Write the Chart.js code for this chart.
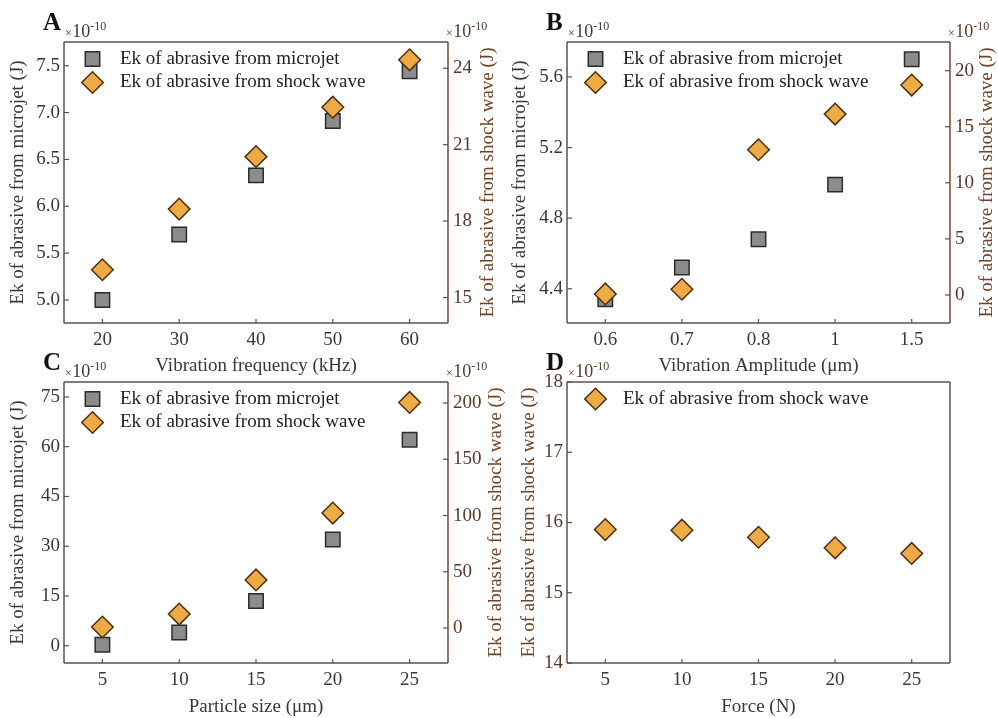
<!DOCTYPE html>
<html><head><meta charset="utf-8">
<script src="https://cdn.jsdelivr.net/npm/chart.js@4.4.1/dist/chart.umd.min.js"></script>
<style>
html,body{margin:0;padding:0;background:#fff;}
#wrap{position:relative;width:998px;height:718px;overflow:hidden;background:#fff;}
canvas{position:absolute;left:0;top:0;}
</style></head><body><div id="wrap">
<canvas id="cA" width="998" height="718"></canvas>
<canvas id="cB" width="998" height="718"></canvas>
<canvas id="cC" width="998" height="718"></canvas>
<canvas id="cD" width="998" height="718"></canvas>
</div>
<script>
// ---------------- data (values in units of 1e-10 J) ----------------
const freqLabels = ['20', '30', '40', '50', '60'];
const freqMicrojet = [5.00, 5.70, 6.33, 6.91, 7.44];
const freqShock = [16.09, 18.47, 20.53, 22.47, 24.33];

const ampLabels = ['0.6', '0.7', '0.8', '1', '1.5'];
const ampMicrojet = [4.34, 4.52, 4.68, 4.99, 5.70];
const ampShock = [0.09, 0.51, 12.95, 16.13, 18.72];

const sizeLabels = ['5', '10', '15', '20', '25'];
const sizeMicrojet = [0.3, 4.0, 13.5, 32.0, 62.1];
const sizeShock = [0.9, 12.4, 42.7, 102.2, 200.5];

const forceLabels = ['5', '10', '15', '20', '25'];
const forceShock = [15.90, 15.89, 15.79, 15.64, 15.56];

const ticksALeft = [5.0, 5.5, 6.0, 6.5, 7.0, 7.5];
const ticksARight = [15, 18, 21, 24];
const ticksBLeft = [4.4, 4.8, 5.2, 5.6];
const ticksBRight = [0, 5, 10, 15, 20];
const ticksCLeft = [0, 15, 30, 45, 60, 75];
const ticksCRight = [0, 50, 100, 150, 200];
const ticksDLeft = [14, 15, 16, 17, 18];

const microName = 'Ek of abrasive from microjet';
const shockName = 'Ek of abrasive from shock wave';
const microAxisTitle = 'Ek of abrasive from microjet (J)';
const shockAxisTitle = 'Ek of abrasive from shock wave (J)';

// ---------------- styles ----------------
const FAM = '"Liberation Serif", "Times New Roman", serif';
const FS = 19, LH = 1.2, HALF = FS * LH / 2;
const TFS = 19;
const GRAY_TXT = '#383838';
const BROWN_TXT = '#553a28';
const BROWN_TITLE = '#6e4326';
const BROWN_AXIS = '#6e4a36';
const FRAME = '#555555';
const SQ_FILL = '#8c8c8c', SQ_EDGE = '#2b2b2b';
const DI_FILL = '#eeaa44', DI_EDGE = '#4a3010';

const panels = [
  { id: 'cA', letter: 'A', L: 64, R: 448, T: 42, B: 323, labels: freqLabels, xTitle: 'Vibration frequency (kHz)',
    micro: freqMicrojet, shock: freqShock,
    left: { min: 4.755, max: 7.753, ticks: ticksALeft, dec: 1 },
    right: { min: 14.0, max: 25.03, ticks: ticksARight, dec: 0 },
    leftTitleX: 18, rightEdge: 499, xTitleY: 366 },
  { id: 'cB', letter: 'B', L: 567, R: 950, T: 42, B: 323, labels: ampLabels, xTitle: 'Vibration Amplitude (\u03bcm)',
    micro: ampMicrojet, shock: ampShock,
    left: { min: 4.206, max: 5.798, ticks: ticksBLeft, dec: 1 },
    right: { min: -2.5, max: 22.56, ticks: ticksBRight, dec: 0 },
    leftTitleX: 520, rightEdge: 998, xTitleY: 366 },
  { id: 'cC', letter: 'C', L: 64, R: 448, T: 382, B: 663, labels: sizeLabels, xTitle: 'Particle size (\u03bcm)',
    micro: sizeMicrojet, shock: sizeShock,
    left: { min: -5.2, max: 79.5, ticks: ticksCLeft, dec: 0 },
    right: { min: -31.1, max: 218.7, ticks: ticksCRight, dec: 0 },
    leftTitleX: 18, rightEdge: 507, xTitleY: 707 },
  { id: 'cD', letter: 'D', L: 567, R: 950, T: 382, B: 663, labels: forceLabels, xTitle: 'Force (N)',
    micro: null, shock: forceShock,
    left: { min: 14, max: 18, ticks: ticksDLeft, dec: 0 },
    right: null,
    leftTitleX: 529, rightEdge: 998, xTitleY: 707 }
];

const W = 998, H = 718;

function drawExp(ctx, x, T, color) {
  ctx.save();
  ctx.fillStyle = color;
  ctx.textBaseline = 'middle';
  ctx.textAlign = 'left';
  ctx.font = '12px ' + FAM;
  ctx.fillText('\u00d7', x, T - 8);
  const w1 = ctx.measureText('\u00d7').width;
  ctx.font = '18px ' + FAM;
  ctx.fillText('10', x + w1 + 0.5, T - 9.5);
  const w2 = ctx.measureText('10').width;
  ctx.font = '12px ' + FAM;
  ctx.fillText('-10', x + w1 + 0.5 + w2, T - 15);
  ctx.restore();
}

function line(ctx, x1, y1, x2, y2) {
  ctx.beginPath(); ctx.moveTo(x1, y1); ctx.lineTo(x2, y2); ctx.stroke();
}

const decor = {
  id: 'decor',
  beforeDatasetsDraw(chart) {
    const p = chart.$panel;
    const a = chart.chartArea;
    const ctx = chart.ctx;
    ctx.save();
    ctx.lineWidth = 1.5;
    // frame
    ctx.strokeStyle = FRAME;
    line(ctx, a.left, a.top, a.right, a.top);
    line(ctx, a.left, a.top, a.left, a.bottom);
    line(ctx, a.left, a.bottom, a.right, a.bottom);
    ctx.strokeStyle = p.right ? BROWN_AXIS : FRAME;
    line(ctx, a.right, a.top, a.right, a.bottom);
    // inward ticks
    ctx.lineWidth = 1.2;
    ctx.strokeStyle = p.right ? FRAME : BROWN_AXIS;
    const ys = chart.scales.y;
    ys.ticks.forEach(t => { const py = ys.getPixelForValue(t.value); line(ctx, a.left, py, a.left + 5, py); });
    if (p.right) {
      const yr = chart.scales.y1;
      ctx.strokeStyle = BROWN_AXIS;
      yr.ticks.forEach(t => { const py = yr.getPixelForValue(t.value); line(ctx, a.right - 5, py, a.right, py); });
    }
    ctx.strokeStyle = FRAME;
    const xs = chart.scales.x;
    xs.ticks.forEach((t, i) => { const px = xs.getPixelForTick(i); line(ctx, px, a.bottom, px, a.bottom - 4); });
    ctx.restore();
  },
  afterDraw(chart) {
    const p = chart.$panel;
    const a = chart.chartArea;
    const ctx = chart.ctx;
    ctx.save();
    // panel letter
    ctx.fillStyle = '#111';
    ctx.font = 'bold 25px ' + FAM;
    ctx.textBaseline = 'middle';
    ctx.textAlign = 'left';
    ctx.fillText(p.letter, a.left - 21, a.top - 18.5);
    // exponent labels
    drawExp(ctx, a.left + 1, a.top, p.right ? GRAY_TXT : BROWN_TXT);
    if (p.right) drawExp(ctx, a.right - 2, a.top, BROWN_TXT);
    // right axis title (reads bottom-to-top)
    if (p.right) {
      const yr = chart.scales.y1;
      ctx.save();
      ctx.translate(yr.right - HALF, (yr.top + yr.bottom) / 2);
      ctx.rotate(-Math.PI / 2);
      ctx.fillStyle = BROWN_TITLE;
      ctx.font = FS + 'px ' + FAM;
      ctx.textAlign = 'center';
      ctx.textBaseline = 'middle';
      ctx.fillText(shockAxisTitle, 0, 0);
      ctx.restore();
    }
    // legend (from dataset styles)
    const items = chart.data.datasets.slice().sort((d1, d2) => d2.order - d1.order);
    items.forEach((ds, i) => {
      const cx = a.left + 28.5, cy = a.top + 17 + i * 23.5;
      ctx.fillStyle = ds.pointBackgroundColor;
      ctx.strokeStyle = ds.pointBorderColor;
      ctx.lineWidth = 1.5;
      ctx.beginPath();
      if (ds.pointStyle === 'rect') {
        ctx.rect(cx - 7.2, cy - 7.2, 14.4, 14.4);
      } else {
        const r = 10.8;
        ctx.moveTo(cx - r, cy); ctx.lineTo(cx, cy - r); ctx.lineTo(cx + r, cy); ctx.lineTo(cx, cy + r); ctx.closePath();
      }
      ctx.fill(); ctx.stroke();
      ctx.fillStyle = '#222';
      ctx.font = FS + 'px ' + FAM;
      ctx.textAlign = 'left';
      ctx.textBaseline = 'middle';
      ctx.fillText(ds.label, a.left + 56, cy);
    });
    ctx.restore();
  }
};

function yAxis(cfg, position, width, txtColor, title, titleColor) {
  return {
    type: 'linear', position: position, min: cfg.min, max: cfg.max, bounds: 'data',
    afterBuildTicks: s => { s.ticks = cfg.ticks.map(v => ({ value: v })); },
    afterFit: s => { s.width = width; },
    grid: { display: false, drawTicks: false },
    border: { display: false },
    ticks: { color: txtColor, padding: position === 'left' ? 4 : 5, font: { family: FAM, size: TFS, lineHeight: LH },
             callback: v => Number(v).toFixed(cfg.dec) },
    title: title ? { display: true, text: title, color: titleColor, padding: 0, font: { family: FAM, size: FS, lineHeight: LH } } : { display: false }
  };
}

panels.forEach(p => {
  const datasets = [];
  if (p.micro) {
    datasets.push({ label: microName, data: p.micro, yAxisID: 'y', order: 2, showLine: false, clip: false,
      pointStyle: 'rect', pointRadius: 10.2, pointHoverRadius: 10.2, pointBorderWidth: 1.5,
      pointBackgroundColor: SQ_FILL, pointBorderColor: SQ_EDGE, backgroundColor: SQ_FILL, borderColor: SQ_EDGE });
  }
  datasets.push({ label: shockName, data: p.shock, yAxisID: p.micro ? 'y1' : 'y', order: 1, showLine: false, clip: false,
    pointStyle: 'rectRot', pointRadius: 10.8, pointHoverRadius: 10.8, pointBorderWidth: 1.5,
    pointBackgroundColor: DI_FILL, pointBorderColor: DI_EDGE, backgroundColor: DI_FILL, borderColor: DI_EDGE });

  const padLeft = p.leftTitleX - HALF;
  const wl = p.L - padLeft;
  const xBottom = Math.min(H, p.xTitleY + HALF);
  const hb = xBottom - p.B;
  const padBottom = H - xBottom;
  let padRight, wr = 0;
  if (p.right) { wr = p.rightEdge - p.R; padRight = W - p.rightEdge; }
  else { padRight = W - p.R; }

  const scales = {
    x: { type: 'category', labels: p.labels, offset: true,
      afterFit: s => { s.height = hb; },
      grid: { display: false, drawTicks: false }, border: { display: false },
      ticks: { color: GRAY_TXT, padding: 5.5, maxRotation: 0, autoSkip: false, font: { family: FAM, size: TFS, lineHeight: LH } },
      title: { display: true, text: p.xTitle, color: GRAY_TXT, padding: 0, font: { family: FAM, size: FS, lineHeight: LH } } },
    y: p.right ? yAxis(p.left, 'left', wl, GRAY_TXT, microAxisTitle, GRAY_TXT)
               : yAxis(p.left, 'left', wl, BROWN_TXT, shockAxisTitle, BROWN_TITLE)
  };
  if (p.right) scales.y1 = yAxis(p.right, 'right', wr, BROWN_TXT, null, null);

  new Chart(document.getElementById(p.id), {
    type: 'line',
    data: { labels: p.labels, datasets: datasets },
    options: {
      responsive: false, animation: false, devicePixelRatio: 1,
      layout: { padding: { left: padLeft, right: padRight, top: p.T, bottom: padBottom } },
      plugins: { legend: { display: false }, tooltip: { enabled: false } },
      scales: scales
    },
    plugins: [{ id: 'attach', beforeInit(c) { c.$panel = p; } }, decor]
  });
});
</script>
</body></html>
